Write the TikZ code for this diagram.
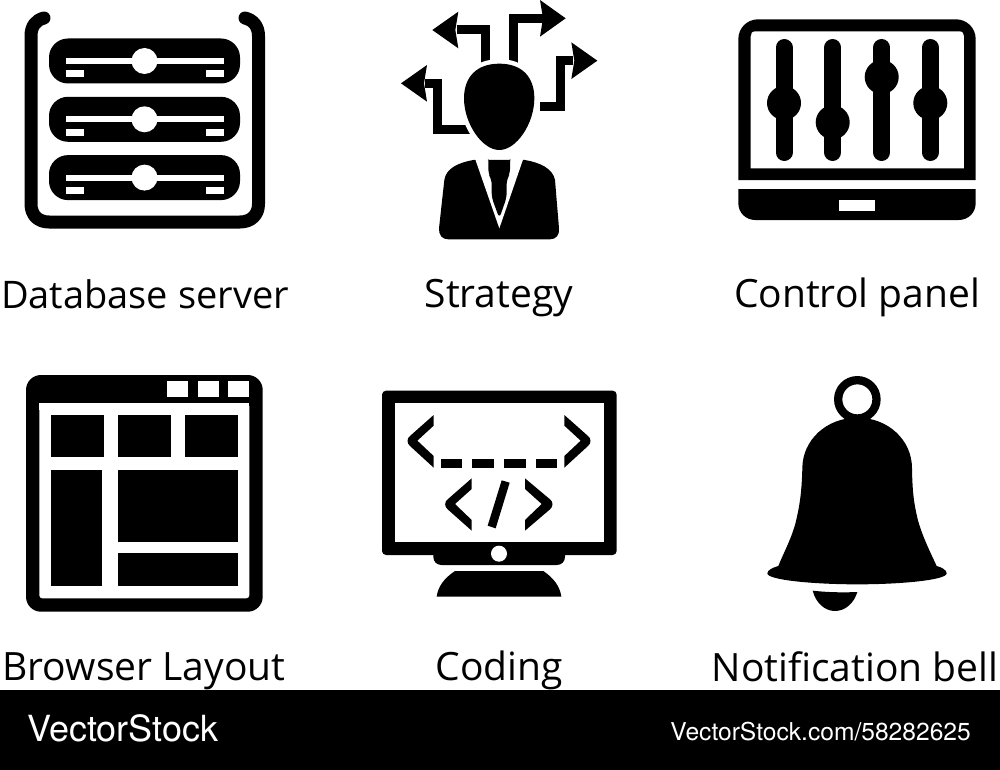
\documentclass[tikz,border=0pt]{standalone}
\usepackage{fontspec}
\setmainfont{Open Sans}
\newfontfamily\footfont{TeX Gyre Heros}
\tikzset{
  ink/.style={fill=black,draw=none},
  hole/.style={fill=white,draw=none},
  label/.style={inner sep=0pt,anchor=base,font=\fontsize{39}{42}\selectfont,text=black},
  arrowline/.style={draw=black,line width=9pt,line cap=butt,line join=miter},
}
\begin{document}
\begin{tikzpicture}[x=1pt,y=-1pt]
\useasboundingbox (0,0) rectangle (1000,770);
\fill[white] (0,0) rectangle (1000,770);
% database server
\draw[line width=13pt,line cap=round,line join=round] (44,18) .. controls (36,20) and (31,26) .. (31,36) -- (31,204) .. controls (31,215) and (38,222) .. (49,222) -- (240,222) .. controls (251,222) and (258.5,215) .. (258.5,204) -- (258.5,36) .. controls (258.5,26) and (253,20) .. (245,18);
\foreach \dy in {0,58.3,116.6}{
  \begin{scope}[yshift=-\dy pt]
  \fill[ink,rounded corners=19pt] (49,38.5) rectangle (240,83.5);
  \fill[hole] (66,58) rectangle (223.5,64);
  \fill[hole] (66,70.5) rectangle (83.5,77.5);
  \fill[hole] (205.5,70.5) rectangle (223.5,77.5);
  \fill[hole] (144.5,61) circle (13);
  \end{scope}
}
% strategy
\begin{scope}[shift={(380pt,0pt)},x=0.33333pt,y=-0.33333pt]
 \draw[arrowline] (315,200) -- (315,90) -- (230,90);
 \fill[ink] (157,90) -- (235,35) -- (226,90) -- (235,145) -- cycle;
 \draw[arrowline] (400,200) -- (400,56) -- (490,56);
 \fill[ink] (557,55) -- (480,0) -- (489,55) -- (480,110) -- cycle;
 \draw[arrowline] (480,319) -- (541,319) -- (541,181) -- (580,181);
 \fill[ink] (652,182) -- (574,127) -- (583,182) -- (574,237) -- cycle;
 \draw[arrowline] (290,390) -- (172,390) -- (172,252) -- (135,252);
 \fill[ink] (63,250) -- (141,195) -- (132,250) -- (141,305) -- cycle;
 \path[draw=white,line width=9pt] (358,191) .. controls (425,191) and (463,230) .. (463,295) .. controls (463,370) and (410,450) .. (358,450) .. controls (306,450) and (252,370) .. (252,295) .. controls (252,230) and (291,191) .. (358,191) -- cycle;
 \fill[ink] (358,191) .. controls (425,191) and (463,230) .. (463,295) .. controls (463,370) and (410,450) .. (358,450) .. controls (306,450) and (252,370) .. (252,295) .. controls (252,230) and (291,191) .. (358,191) -- cycle;
 \fill[ink] (280,480) .. controls (235,488) and (198,505) .. (193,540) -- (177,685) .. controls (176,705) and (186,718) .. (205,718) -- (510,718) .. controls (528,718) and (539,705) .. (537,685) -- (525,540) .. controls (518,505) and (480,488) .. (435,480) -- cycle;
 \fill[hole] (283,470) -- (358,685) -- (432,470) -- cycle;
 \fill[ink,rounded corners=5pt] (325,492) .. controls (325,484) and (330,480) .. (338,480) -- (378,480) .. controls (386,480) and (390,484) .. (390,492) -- (390,522) -- (380,538) -- (380,592) -- (358,655) -- (335,592) -- (335,538) -- (325,522) -- cycle;
\end{scope}
% control panel
\fill[ink,even odd rule] (738.3,180) -- (738.3,39.3) .. controls (738.3,28) and (747,19.3) .. (758.3,19.3) -- (955.7,19.3) .. controls (967,19.3) and (975.7,28) .. (975.7,39.3) -- (975.7,180) -- cycle
 (750.7,168.3) -- (750.7,36) .. controls (750.7,33) and (752,31.3) .. (755.4,31.3) -- (959.3,31.3) .. controls (962.5,31.3) and (964,33) .. (964,36) -- (964,168.3) -- cycle;
\fill[ink] (738.3,189) -- (975.7,189) -- (975.7,203) .. controls (975.7,213) and (968,220) .. (958.7,220) -- (755.3,220) .. controls (746,220) and (738.3,213) .. (738.3,203) -- cycle;
\fill[hole] (839.3,200) rectangle (875,210.7);
\foreach \sx/\sy in {784/103,832.7/122.3,881.7/77,930.3/103}{
  \draw[line width=17pt,line cap=round] (\sx,47.5) -- (\sx,152.5);
  \fill[ink] (\sx,\sy) circle (17);
}
% browser
\fill[ink,rounded corners=15pt] (26,375) rectangle (262.7,611.7);
\fill[hole,rounded corners=3pt] (39.3,403.3) -- (249.3,403.3) -- (249.3,598.3) -- (39.3,598.3) -- cycle;
\fill[hole] (39.3,403.3) rectangle (249.3,410);
\foreach \a/\b in {167/188.3,197.7/219,228.3/249.3}{\fill[hole] (\a,381.3) rectangle (\b,396.7);}
\fill[ink] (51,415.3) rectangle (103.7,457);
\fill[ink] (118.3,415.3) rectangle (171,457);
\fill[ink] (185.3,415.3) rectangle (238.3,457);
\fill[ink] (51,470.3) rectangle (102.3,586.3);
\fill[ink] (117.7,470.3) rectangle (238.3,542);
\fill[ink] (117.7,553.3) rectangle (238.3,586.3);
% coding
\begin{scope}[shift={(370pt,-380pt)},x=0.33333pt,y=-0.33333pt]
 \fill[ink,rounded corners=4pt] (36,32) rectangle (740,525);
 \fill[hole] (75,70) rectangle (701,487);
 \fill[ink] (190,520) -- (585,520) -- (585,530) .. controls (585,545) and (575,555) .. (560,555) -- (215,555) .. controls (200,555) and (190,545) .. (190,530) -- cycle;
 \fill[hole] (387,521) circle (24);
 \fill[ink] (255,573) -- (520,573) .. controls (552,595) and (570,620) .. (574,650) -- (200,650) .. controls (204,620) and (222,595) .. (255,573) -- cycle;
 \fill[ink] (191,105) -- (191,137) -- (142,182) -- (191,228) -- (191,263) -- (120,198) .. controls (110,190) and (110,175) .. (120,168) -- cycle;
 \fill[ink] (583,105) -- (583,137) -- (632,182) -- (583,228) -- (583,263) -- (654,198) .. controls (664,190) and (664,175) .. (654,168) -- cycle;
 \foreach \a/\b in {213/277,307/373,402/467,497/562}{\fill[ink] (\a,238) rectangle (\b,265);}
 \fill[ink] (305,295) -- (305,327) -- (255,372) -- (305,420) -- (305,452) -- (233,388) .. controls (223,380) and (223,365) .. (233,358) -- cycle;
 \fill[ink] (465,295) -- (465,327) -- (515,372) -- (465,420) -- (465,452) -- (540,388) .. controls (550,380) and (550,365) .. (540,358) -- cycle;
 \fill[ink] (395,301) -- (419,308) -- (377,445) -- (353,437) -- cycle;
\end{scope}
% bell
\begin{scope}[shift={(750pt,-365pt)},x=0.33333pt,y=-0.33333pt]
 \draw[line width=8.3pt] (322,103) circle (57.5);
 \fill[ink] (322,158) .. controls (230,158) and (157,225) .. (157,310) .. controls (155,380) and (150,420) .. (135,480) .. controls (120,530) and (100,565) .. (85,603) .. controls (70,607) and (52,615) .. (52,625) .. controls (52,645) and (190,658) .. (322,658) .. controls (455,658) and (590,645) .. (590,625) .. controls (590,615) and (575,607) .. (560,603) .. controls (540,560) and (520,520) .. (505,470) .. controls (492,420) and (487,380) .. (486,310) .. controls (486,225) and (414,158) .. (322,158) -- cycle;
 \fill[ink] (188,677) .. controls (230,682) and (280,683) .. (322,681) .. controls (312,715) and (285,738) .. (255,738) .. controls (225,738) and (198,715) .. (188,677) -- cycle;
\end{scope}
% labels
\node[label,font=\fontsize{38}{42}\selectfont] (db) at (145,308) {Database server};
\node[label] (st) at (499,307) {Strategy};
\node[label] (cp) at (857,307) {Control panel};
\node[label] (bl) at (144,680) {Browser Layout};
\node[label] (cd) at (499,680) {Coding};
\node[label] (nb) at (855,681) {Notification bell};
% footer
\fill[ink] (0,690) rectangle (1000,770);
\node[inner sep=0pt,anchor=base west,text=white,font=\footfont\fontsize{36}{38}\selectfont] (vs) at (27,741.7) {VectorStock};
\node[inner sep=0pt,anchor=base east,text=white,font=\footfont\fontsize{24.6}{28}\selectfont] (vu) at (971,740) {VectorStock.com/58282625};
\end{tikzpicture}
\end{document}
